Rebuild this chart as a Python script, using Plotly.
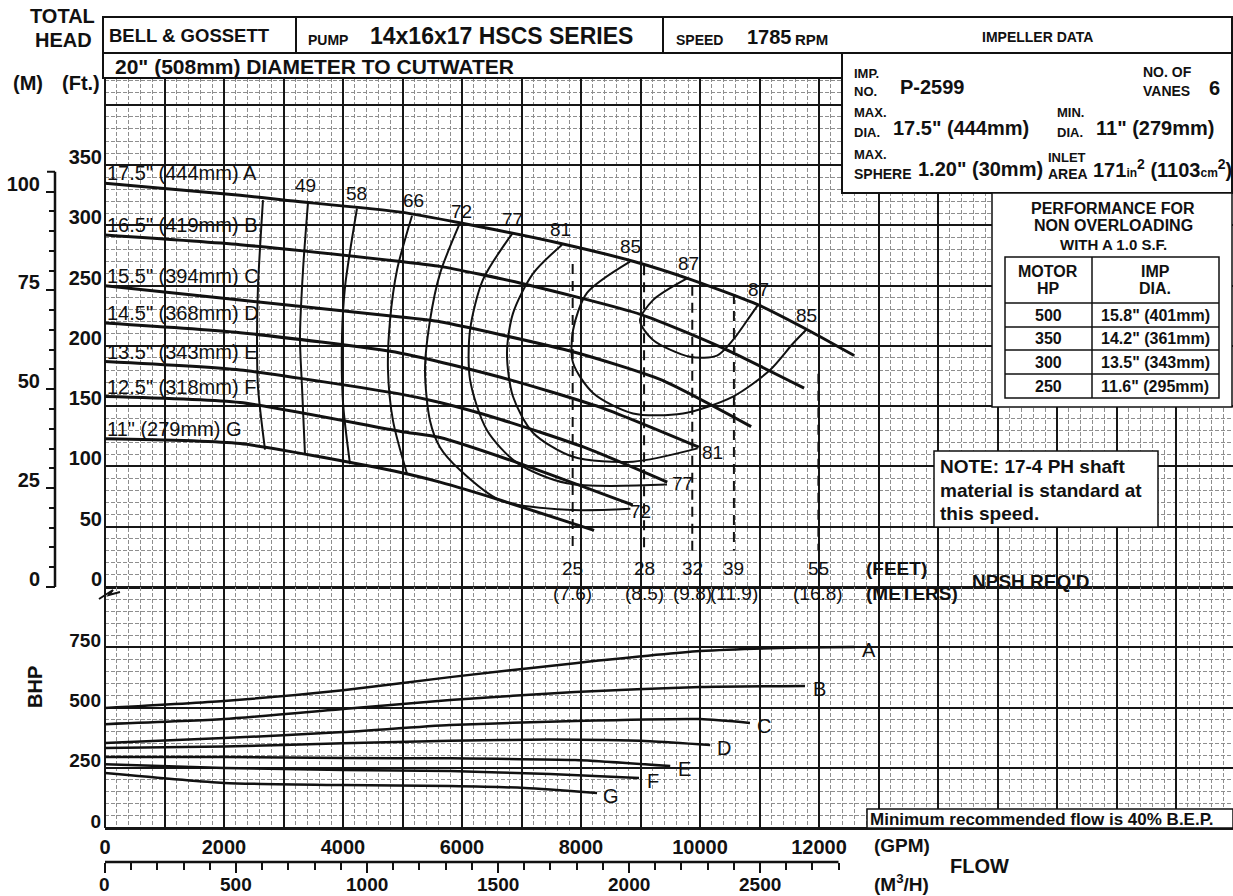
import plotly.graph_objects as go

FIG_W, FIG_H = 1233, 896
FONT = "Liberation Sans, Arial, sans-serif"

# ---- sheet frame (pixel layout of the printed curve sheet) ----
PLOT_L, PLOT_R = 105, 1233
HEAD_ZERO_Y, PLOT_TOP_Y, BHP_ZERO_Y = 587, 78, 828
M3H_AXIS_Y = 862
PX_PER_1000_GPM = 59.5
PX_PER_50_FT = 60.27
GPM_PER_M3H = 4.4029
FT_PER_M = 3.28084

gpm_max = (PLOT_R - PLOT_L) / PX_PER_1000_GPM * 1000
head_max = (HEAD_ZERO_Y - PLOT_TOP_Y) / PX_PER_50_FT * 50
bhp_max = 1000


def px(x):
    return x / FIG_W


def py(y):
    return 1 - y / FIG_H


# ---- head / capacity curves per impeller trim (GPM, ft) ----
trim_letters = ["A", "B", "C", "D", "E", "F", "G"]
trim_labels = ['17.5" (444mm) A', '16.5" (419mm) B', '15.5" (394mm) C',
               '14.5" (368mm) D', '13.5" (343mm) E', '12.5" (318mm) F',
               '11" (279mm) G']
head_flow = [
    [0, 2270, 3000, 4970, 5980, 7660, 8890, 9850, 10980, 11820, 12590],
    [0, 2270, 4970, 5630, 6990, 9010, 10350, 11750],
    [0, 2270, 4970, 5630, 7880, 9340, 10860],
    [0, 2270, 4970, 6650, 8330, 9980],
    [0, 2270, 4970, 5630, 6650, 8050, 9450],
    [0, 2270, 4970, 5630, 6940, 8870],
    [0, 2270, 4970, 5630, 6650, 8220],
]
head_ft = [
    [335, 325, 321, 311, 302, 285, 270, 255, 234, 213, 192],
    [292, 284, 270, 266, 252, 226, 199, 165],
    [250, 238, 224, 220, 195, 172, 133],
    [219, 211, 194, 174, 149, 116],
    [187, 180, 160, 153, 139, 116, 87],
    [158, 153, 129, 124, 103, 68],
    [123, 119, 95, 87, 72, 47],
]

# ---- iso-efficiency lines (GPM, ft) ----
eff_values = [None, 49, 58, 66, 72, 77, 81, 85, 87]
eff_flow = [
    [2655, 2571, 2555, 2571, 2689],
    [3412, 3328, 3277, 3311, 3361],
    [4235, 4034, 3983, 4000, 4118],
    [5160, 4908, 4790, 4756, 4840, 5076],
    [5966, 5630, 5462, 5378, 5462, 5630, 5966, 6639, 7765, 8830],
    [6857, 6353, 6135, 6135, 6420, 6925, 7765, 9446],
    [7681, 7193, 6857, 6756, 6857, 7193, 7866, 8874, 9960],
    [8824, 8101, 7866, 7866, 8202, 8874, 9714, 10555, 11177, 11563, 11798],
    [9782, 9210, 8992, 9210, 9832, 10286, 10555, 10790, 10975],
]
eff_head = [
    [321, 249, 207, 166, 114],
    [319, 263, 207, 166, 110],
    [314, 249, 207, 153, 102],
    [308, 263, 221, 180, 138, 94],
    [302, 260, 221, 180, 138, 116, 97, 72, 64, 65],
    [294, 255, 213, 172, 130, 103, 86, 85],
    [284, 260, 227, 194, 158, 128, 108, 104, 115],
    [270, 244, 213, 186, 161, 144, 144, 158, 180, 202, 214],
    [256, 238, 221, 205, 191, 192, 205, 221, 234],
]
# label offsets in pixels at the first / last point of each line
eff_start_offset = [None, (-3, 17), (0, 15), (1, 15), (2, 11), (0, 13), (-2, 15), (0, 15), (1, 15)]
eff_end_offset = [None, None, None, None, (10, -3), (15, 1), (15, -4), (0, 14), (0, 15)]

# ---- NPSH required ----
npsh_flow = [7860, 9060, 9870, 10570, 11990]
npsh_ft = ["25", "28", "32", "39", "55"]
npsh_m = ["(7.6)", "(8.5)", "(9.8)", "(11.9)", "(16.8)"]
npsh_top_head = [268, 267, 250, 243, 177]
npsh_bottom_head = 30

# ---- brake horsepower per trim (GPM, BHP) ----
bhp_flow = [
    [0, 2000, 4000, 5800, 7900, 10000, 11680, 12600],
    [0, 2000, 4000, 5800, 7900, 10000, 11765],
    [0, 2000, 4000, 5800, 7900, 10000, 10840],
    [0, 2000, 4000, 5800, 7480, 9160, 10170],
    [0, 2000, 4000, 5800, 7900, 9500],
    [0, 2000, 4000, 5800, 7480, 8975],
    [0, 2000, 4000, 5800, 7060, 8270],
]
bhp_val = [
    [498, 527, 572, 626, 684, 734, 749, 751],
    [431, 452, 494, 531, 564, 585, 589],
    [353, 373, 398, 427, 444, 452, 436],
    [332, 338, 352, 362, 367, 360, 344],
    [295, 295, 290, 289, 282, 257],
    [265, 249, 241, 236, 224, 207],
    [228, 187, 178, 174, 166, 145],
]

# ---- axis tick labels ----
gpm_ticks = list(range(0, 19000, 1000))
gpm_text = [str(v) if (v % 2000 == 0 and v <= 12000) else "" for v in gpm_ticks]
head_ticks = list(range(0, 401, 50))
head_text = [str(v) if v <= 350 else "" for v in head_ticks]
bhp_ticks = [0, 250, 500, 750, 1000]
bhp_text = ["0", "250", "500", "750", ""]
m_ticks = [0, 25, 50, 75, 100]
m3h_ticks = [0, 500, 1000, 1500, 2000, 2500]
m3h_end = 2800

# ---- performance table ----
motor_hp = ["500", "350", "300", "250"]
imp_dia = ['15.8" (401mm)', '14.2" (361mm)', '13.5" (343mm)', '11.6" (295mm)']

fig = go.Figure()

for fl, hd in zip(head_flow, head_ft):
    fig.add_trace(go.Scatter(x=fl, y=hd, mode="lines", line=dict(color="#111", width=3, shape="spline", smoothing=0.6),
                             xaxis="x", yaxis="y", hoverinfo="skip"))

for fl, hd in zip(eff_flow, eff_head):
    fig.add_trace(go.Scatter(x=fl, y=hd, mode="lines", line=dict(color="#111", width=2, shape="spline", smoothing=0.8),
                             xaxis="x", yaxis="y", hoverinfo="skip"))

for f, top in zip(npsh_flow, npsh_top_head):
    fig.add_trace(go.Scatter(x=[f, f], y=[top, npsh_bottom_head], mode="lines",
                             line=dict(color="#111", width=2, dash="10px,7px"),
                             xaxis="x", yaxis="y", hoverinfo="skip"))

for fl, bv in zip(bhp_flow, bhp_val):
    fig.add_trace(go.Scatter(x=fl, y=bv, mode="lines", line=dict(color="#111", width=2.5, shape="spline", smoothing=0.6),
                             xaxis="x", yaxis="y2", hoverinfo="skip"))

# anchors for the secondary scales (metres of head, cubic metres per hour)
fig.add_trace(go.Scatter(x=[None], y=[None], xaxis="x", yaxis="y3", hoverinfo="skip"))
fig.add_trace(go.Scatter(x=[None], y=[None], xaxis="x2", yaxis="y2", hoverinfo="skip"))

MAJOR = "#161616"
MINOR = "#8e8e8e"

fig.update_layout(
    width=FIG_W, height=FIG_H, autosize=False, template="none",
    margin=dict(l=0, r=0, t=0, b=0),
    paper_bgcolor="white", plot_bgcolor="white", showlegend=False,
    font=dict(family=FONT, color="#111"),
    xaxis=dict(domain=[px(PLOT_L), 1], range=[0, gpm_max], anchor="y2",
               tickmode="array", tickvals=gpm_ticks, ticktext=gpm_text, ticks="",
               tickfont=dict(size=20, weight="bold"), ticklabelstandoff=5,
               showgrid=True, gridcolor=MAJOR, gridwidth=2,
               zeroline=True, zerolinecolor=MAJOR, zerolinewidth=2, showline=False,
               minor=dict(tickmode="linear", tick0=0, dtick=200, showgrid=True,
                          gridcolor=MINOR, gridwidth=1, griddash="4px,2px")),
    yaxis=dict(domain=[py(HEAD_ZERO_Y), py(PLOT_TOP_Y)], range=[0, head_max], anchor="x",
               tickmode="array", tickvals=head_ticks, ticktext=head_text, ticks="",
               tickfont=dict(size=20, weight="bold"), ticklabelshift=-8, ticklabelstandoff=2,
               showgrid=True, gridcolor=MAJOR, gridwidth=2,
               zeroline=True, zerolinecolor=MAJOR, zerolinewidth=2.5,
               minor=dict(tickmode="linear", tick0=0, dtick=10, showgrid=True,
                          gridcolor=MINOR, gridwidth=1, griddash="4px,2px")),
    yaxis2=dict(domain=[py(BHP_ZERO_Y), py(HEAD_ZERO_Y)], range=[0, bhp_max], anchor="x",
                tickmode="array", tickvals=bhp_ticks, ticktext=bhp_text, ticks="",
                tickfont=dict(size=19, weight="bold"), ticklabelshift=-7, ticklabelstandoff=3,
                showgrid=True, gridcolor=MAJOR, gridwidth=2,
                zeroline=True, zerolinecolor=MAJOR, zerolinewidth=2.5,
                minor=dict(tickmode="linear", tick0=0, dtick=50, showgrid=True,
                           gridcolor=MINOR, gridwidth=1, griddash="4px,2px")),
    yaxis3=dict(overlaying="y", anchor="free", position=px(55), side="left",
                range=[0, head_max / FT_PER_M], tickmode="array", tickvals=m_ticks,
                ticks="outside", ticklen=9, tickwidth=2, tickcolor="#111",
                tickfont=dict(size=20, weight="bold"), ticklabelshift=-8, ticklabelstandoff=2,
                showgrid=False, zeroline=False, showline=False,
                minor=dict(tickmode="array", tickvals=[v for v in range(5, 100, 5) if v % 25],
                           ticks="outside", ticklen=6, tickwidth=2, tickcolor="#111")),
    xaxis2=dict(overlaying="x", anchor="free", position=py(M3H_AXIS_Y), side="bottom",
                range=[0, gpm_max / GPM_PER_M3H], tickmode="array", tickvals=m3h_ticks,
                ticks="outside", ticklen=10, tickwidth=2, tickcolor="#111",
                showticklabels=False, showgrid=False, zeroline=False, showline=False,
                minor=dict(tickmode="array", tickvals=[v for v in range(100, m3h_end + 1, 100) if v % 500],
                           ticks="outside", ticklen=7, tickwidth=2, tickcolor="#111")),
)

shapes = []


def line(x0, y0, x1, y1, w=2):
    shapes.append(dict(type="line", xref="paper", yref="paper", x0=px(x0), y0=py(y0), x1=px(x1), y1=py(y1),
                       line=dict(color="#111", width=w), layer="above"))


def rect(x0, y0, x1, y1, w=2, fill="white"):
    shapes.append(dict(type="rect", xref="paper", yref="paper", x0=px(x0), y0=py(y0), x1=px(x1), y1=py(y1),
                       fillcolor=fill, line=dict(color="#111", width=w), layer="above"))


# title block
rect(103, 17, 1232, 53)
line(296, 17, 296, 53)
line(663, 17, 663, 53)
rect(103, 53, 842, 78)
rect(842, 53, 1232, 193)
# non-overloading table
rect(992, 193, 1232, 407, w=1.5)
rect(1005, 257, 1219, 398, w=1.5)
line(1092, 257, 1092, 398, w=1.5)
for yy in [303, 327, 350, 374]:
    line(1005, yy, 1219, yy, w=1.5)
# note and minimum-flow boxes
rect(934, 451, 1158, 527, w=1.5)
rect(867, 809, 1233, 828, w=1.5)

# metre scale spine and m3/h scale spine
shapes.append(dict(type="line", xref="paper", yref="y3", x0=px(55), x1=px(55), y0=0, y1=105,
                   line=dict(color="#111", width=2.5), layer="above"))
shapes.append(dict(type="line", xref="paper", yref="y3", x0=px(47), x1=px(55), y0=105, y1=105,
                   line=dict(color="#111", width=2), layer="above"))
shapes.append(dict(type="line", xref="x2", yref="paper", x0=0, x1=m3h_end, y0=py(M3H_AXIS_Y), y1=py(M3H_AXIS_Y),
                   line=dict(color="#111", width=2.5), layer="above"))
# axis break mark
brk = [(99, 599), (113, 590), (109, 595), (120, 592)]
shapes.append(dict(type="path", xref="paper", yref="paper",
                   path="M " + " L ".join(f"{px(a):.5f},{py(b):.5f}" for a, b in brk),
                   line=dict(color="#111", width=2), layer="above"))

fig.update_layout(shapes=shapes)

ann = []


def txt(x, y, s, size, bold=True, anchor="left", angle=0):
    ann.append(dict(xref="paper", yref="paper", x=px(x), y=py(y), text=s, showarrow=False,
                    xanchor=anchor, yanchor="middle", textangle=angle,
                    font=dict(family=FONT, size=size, color="#111", weight="bold" if bold else "normal")))


# m3/h scale numbers
for v in m3h_ticks:
    ann.append(dict(xref="x2", yref="paper", x=v, y=py(884), text=str(v), showarrow=False,
                    xanchor="center", yanchor="middle",
                    font=dict(family=FONT, size=19, color="#111", weight="bold")))

# axis captions
txt(62, 16, "TOTAL", 20, anchor="center")
txt(63, 40, "HEAD", 20, anchor="center")
txt(28, 83, "(M)", 20, anchor="center")
txt(81, 83, "(Ft.)", 20, anchor="center")
txt(35, 687, "BHP", 20, anchor="center", angle=-90)
txt(872, 845, "(GPM)", 19)
txt(872, 883, "(M<sup>3</sup>/H)", 19)
txt(948, 866, "FLOW", 20)

# title block text
txt(107, 36, "BELL &amp; GOSSETT", 18.5)
txt(306, 40, "PUMP", 14)
txt(368, 36, "14x16x17 HSCS SERIES", 23)
txt(674, 40, "SPEED", 14)
txt(745, 37, "1785", 20)
txt(793, 40, "RPM", 15)
txt(113, 66, "20\" (508mm) DIAMETER TO CUTWATER", 21)
txt(1037, 37, "IMPELLER DATA", 14, anchor="center")

txt(852, 73, "IMP.", 13)
txt(852, 91, "NO.", 13)
txt(898, 87, "P-2599", 20)
txt(1141, 72, "NO. OF", 14)
txt(1141, 91, "VANES", 14)
txt(1207, 88, "6", 20)
txt(852, 113, "MAX.", 13)
txt(852, 132, "DIA.", 13)
txt(891, 128, "17.5\" (444mm)", 20)
txt(1055, 113, "MIN.", 13)
txt(1055, 132, "DIA.", 13)
txt(1094, 128, "11\" (279mm)", 20)
txt(852, 155, "MAX.", 13)
txt(852, 174, "SPHERE", 14)
txt(916, 169, "1.20\" (30mm)", 20)
txt(1046, 157, "INLET", 13)
txt(1046, 174, "AREA", 14)
txt(1091, 169, "171<span style='font-size:12px'>in</span><sup>2</sup> (1103<span style='font-size:12px'>cm</span><sup>2</sup>)", 20)

# non-overloading table text
txt(1113, 208, "PERFORMANCE FOR", 16, anchor="center")
txt(1113, 226, "NON OVERLOADING", 16, anchor="center")
txt(1113, 244, "WITH A 1.0 S.F.", 15, anchor="center")
txt(1048, 271, "MOTOR", 16, anchor="center")
txt(1048, 288, "HP", 16, anchor="center")
txt(1155, 271, "IMP", 16, anchor="center")
txt(1155, 288, "DIA.", 16, anchor="center")
for i, (hp, dia) in enumerate(zip(motor_hp, imp_dia)):
    yc = 315 + i * 23.7
    txt(1048, yc, hp, 16, anchor="center")
    txt(1155, yc, dia, 16, anchor="center")

# note and min flow
txt(938, 467, "NOTE: 17-4 PH shaft", 19)
txt(938, 490, "material is standard at", 19)
txt(938, 513, "this speed.", 19)
txt(868, 819, "Minimum recommended flow is 40% B.E.P.", 17)

# NPSH captions
for f, ft, m in zip(npsh_flow, npsh_ft, npsh_m):
    ann.append(dict(xref="x", yref="paper", x=f, y=py(568), text=ft, showarrow=False, xanchor="center",
                    yanchor="middle", font=dict(family=FONT, size=19, color="#111")))
    ann.append(dict(xref="x", yref="paper", x=f, y=py(593), text=m, showarrow=False, xanchor="center",
                    yanchor="middle", font=dict(family=FONT, size=19, color="#111")))
txt(864, 568, "(FEET)", 19)
txt(864, 593, "(METERS)", 19)
txt(970, 581, "NPSH REQ'D", 19)

# trim labels on the head curves
for lab, fl, hd in zip(trim_labels, head_flow, head_ft):
    ann.append(dict(xref="x", yref="y", x=fl[0], y=hd[0], text=lab, showarrow=False, xanchor="left",
                    yanchor="middle", xshift=0, yshift=10, font=dict(family=FONT, size=20, color="#111")))

# efficiency labels
for val, fl, hd, so, eo in zip(eff_values, eff_flow, eff_head, eff_start_offset, eff_end_offset):
    if val is None:
        continue
    for pos, off in ((0, so), (-1, eo)):
        if off is None:
            continue
        ann.append(dict(xref="x", yref="y", x=fl[pos], y=hd[pos], text=str(val), showarrow=False,
                        xanchor="center", yanchor="middle", xshift=off[0], yshift=off[1],
                        font=dict(family=FONT, size=19, color="#111")))

# trim letters at the end of the BHP curves
for letter, fl, bv in zip(trim_letters, bhp_flow, bhp_val):
    ann.append(dict(xref="x", yref="y2", x=fl[-1], y=bv[-1], text=letter, showarrow=False,
                    xanchor="center", yanchor="middle", xshift=14, yshift=-3,
                    font=dict(family=FONT, size=20, color="#111")))

fig.update_layout(annotations=ann)
fig.write_html("out.html")
